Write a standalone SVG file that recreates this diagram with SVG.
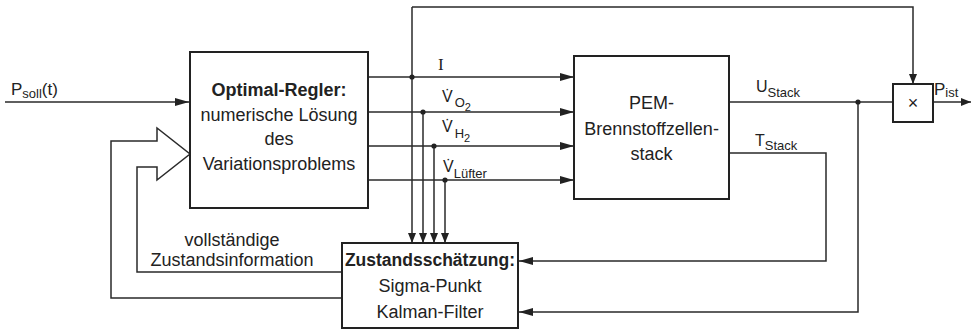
<svg xmlns="http://www.w3.org/2000/svg" width="974" height="331" viewBox="0 0 974 331">
<style>
.ln{fill:none;stroke:#2a2a2a;stroke-width:1.5}
.bx{fill:#fff;stroke:#222;stroke-width:2}
.t{font-family:"Liberation Sans",Arial,sans-serif;fill:#222}
.c{text-anchor:middle}
.b{font-weight:bold}
.dot{fill:#222}
</style>
<defs>
<marker id="ah" viewBox="0 0 14 8" refX="14" refY="4" markerWidth="14" markerHeight="8" markerUnits="userSpaceOnUse" orient="auto"><path d="M0,0 L14,4 L0,8 z" fill="#222"/></marker>
<marker id="as" viewBox="0 0 10 8" refX="10" refY="4" markerWidth="10" markerHeight="8" markerUnits="userSpaceOnUse" orient="auto"><path d="M0,0 L10,4 L0,8 z" fill="#222"/></marker>
</defs>
<rect width="974" height="331" fill="#fff"/>
<g id="connectors">
<path class="ln" d="M5,102 H189" marker-end="url(#ah)"/>
<path class="ln" d="M342,298 H111 V141 H157 V128 L190,154 L157,180 V167 H137 V272 H342"/>
<path class="ln" d="M368,77 H574" marker-end="url(#ah)"/>
<path class="ln" d="M368,112 H574" marker-end="url(#ah)"/>
<path class="ln" d="M368,146 H574" marker-end="url(#ah)"/>
<path class="ln" d="M368,180 H574" marker-end="url(#ah)"/>
<path class="ln" d="M412,7 V243" marker-end="url(#as)"/>
<path class="ln" d="M423,112 V243" marker-end="url(#as)"/>
<path class="ln" d="M434,146 V243" marker-end="url(#as)"/>
<path class="ln" d="M445,180 V243" marker-end="url(#as)"/>
<path class="ln" d="M412,7 H913 V84" marker-end="url(#as)"/>
<path class="ln" d="M729,102 H893"/>
<path class="ln" d="M933,102 H971" marker-end="url(#as)"/>
<path class="ln" d="M858,102 V312 H519" marker-end="url(#ah)"/>
<path class="ln" d="M729,153 H826 V261 H519" marker-end="url(#ah)"/>
<circle class="dot" cx="412" cy="77" r="2.6"/>
<circle class="dot" cx="423" cy="112" r="2.6"/>
<circle class="dot" cx="434" cy="146" r="2.6"/>
<circle class="dot" cx="445" cy="180" r="2.6"/>
<circle class="dot" cx="858" cy="102" r="2.6"/>
</g>
<g id="regler">
<rect class="bx" x="190" y="52" width="178" height="156"/>
<text class="t c b" x="279" y="96" font-size="18">Optimal-Regler:</text>
<text class="t c" x="279" y="121" font-size="18">numerische Lösung</text>
<text class="t c" x="279" y="145" font-size="18">des</text>
<text class="t c" x="279" y="170" font-size="18">Variationsproblems</text>
</g>
<g id="pem">
<rect class="bx" x="574" y="56" width="155" height="143"/>
<text class="t c" x="651.5" y="109" font-size="18">PEM-</text>
<text class="t c" x="651.5" y="135" font-size="18">Brennstoffzellen-</text>
<text class="t c" x="651.5" y="160" font-size="18">stack</text>
</g>
<g id="schaetzer">
<rect class="bx" x="342" y="243" width="176" height="85"/>
<text class="t c b" x="430" y="266" font-size="17.5">Zustandsschätzung:</text>
<text class="t c" x="430" y="292" font-size="18">Sigma-Punkt</text>
<text class="t c" x="430" y="318" font-size="18">Kalman-Filter</text>
</g>
<g id="mult">
<rect class="bx" x="893" y="84" width="40" height="38"/>
<text class="t c" x="913" y="109" font-size="18" fill="#444">×</text>
</g>
<g id="labels">
<text class="t" x="11" y="95" font-size="17">P<tspan font-size="13" dy="3">soll</tspan><tspan dy="-3">(t)</tspan></text>
<text x="438" y="70" font-size="17" font-family="'Liberation Serif','Times New Roman',serif" fill="#222">I</text>
<text class="t" x="442" y="102" font-size="16">V&#x307;<tspan dx="2" dy="5" font-size="13">O</tspan><tspan dy="4" font-size="11">2</tspan></text>
<text class="t" x="442" y="132" font-size="16">V&#x307;<tspan dx="2" dy="6" font-size="13">H</tspan><tspan dy="4" font-size="11">2</tspan></text>
<text class="t" x="443" y="172" font-size="16">V&#x307;<tspan dy="6" font-size="13">Lüfter</tspan></text>
<text class="t" x="756" y="92" font-size="16">U<tspan dy="5" font-size="13">Stack</tspan></text>
<text class="t" x="755" y="146" font-size="16">T<tspan dy="4" font-size="13">Stack</tspan></text>
<text class="t" x="934" y="95" font-size="17">P<tspan dy="2" font-size="13">ist</tspan></text>
<text class="t c" x="232" y="246" font-size="18">vollständige</text>
<text class="t c" x="232" y="266" font-size="18">Zustandsinformation</text>
</g>
</svg>
